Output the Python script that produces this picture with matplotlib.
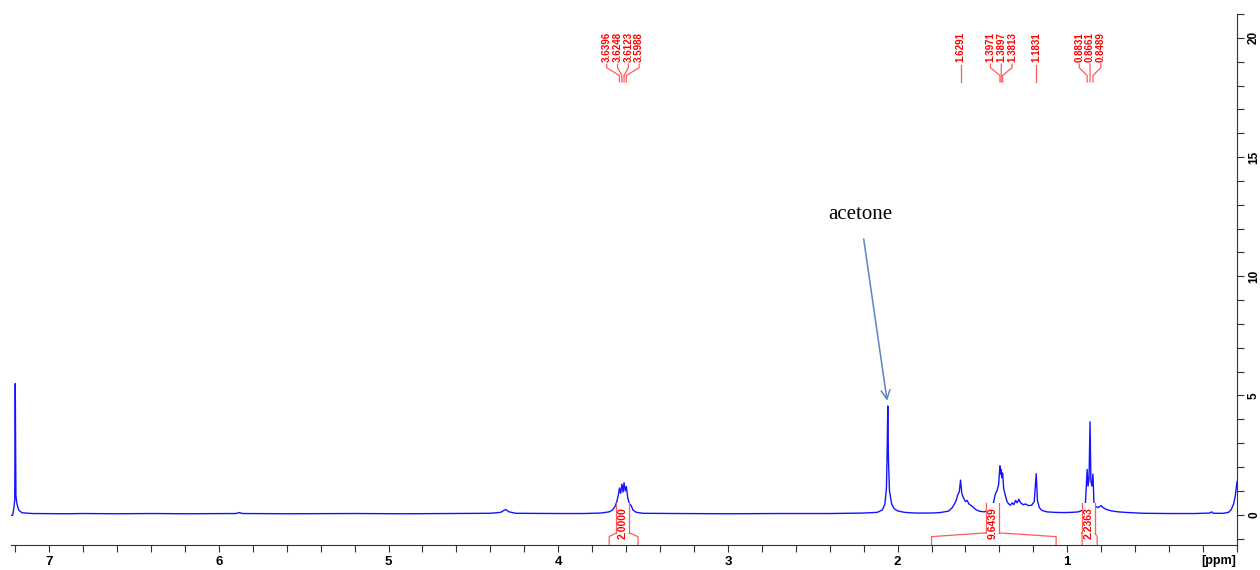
import numpy as np
import matplotlib.pyplot as plt
from matplotlib.ticker import MultipleLocator

# 1H spectrum trace (ppm, intensity), high to low ppm
ppm = [7.225, 7.215, 7.208, 7.203, 7.200, 7.196, 7.19, 7.18, 7.16, 7.10,
       6.9, 6.8, 6.6, 6.4, 6.2, 5.90, 5.88, 5.86, 5.6, 5.2, 4.9, 4.6,
       4.40, 4.34, 4.31, 4.29, 4.25, 4.0, 3.85, 3.75, 3.70, 3.68, 3.665,
       3.655, 3.645, 3.6396, 3.632, 3.6248, 3.618, 3.6123, 3.605, 3.5988,
       3.59, 3.58, 3.57, 3.56, 3.54, 3.50, 3.3, 3.0, 2.7, 2.4, 2.2, 2.12,
       2.09, 2.075, 2.066, 2.062, 2.058, 2.054, 2.048, 2.035, 2.02, 2.0,
       1.96, 1.9, 1.8, 1.75, 1.70, 1.68, 1.665, 1.655, 1.645, 1.637,
       1.6291, 1.622, 1.612, 1.60, 1.59, 1.58, 1.56, 1.54, 1.52, 1.49,
       1.46, 1.445, 1.435, 1.425, 1.415, 1.405, 1.3971, 1.393, 1.3897,
       1.385, 1.3813, 1.375, 1.365, 1.355, 1.345, 1.335, 1.325, 1.315,
       1.305, 1.295, 1.285, 1.275, 1.26, 1.245, 1.23, 1.21, 1.195, 1.1831,
       1.176, 1.165, 1.15, 1.12, 1.08, 1.02, 0.97, 0.935, 0.905, 0.893,
       0.8831, 0.878, 0.872, 0.8661, 0.861, 0.855, 0.8489, 0.843, 0.835,
       0.82, 0.80, 0.79, 0.77, 0.74, 0.70, 0.64, 0.55, 0.40, 0.25, 0.16,
       0.15, 0.14, 0.08, 0.05, 0.035, 0.02, 0.01, 0.003, 0.0]
intensity = [-0.03, -0.02, 0.3, 0.6, 5.5, 0.8, 0.45, 0.2, 0.08, 0.05,
             0.04, 0.05, 0.04, 0.05, 0.04, 0.05, 0.09, 0.05, 0.04, 0.05, 0.04, 0.05,
             0.06, 0.1, 0.22, 0.12, 0.06, 0.05, 0.05, 0.07, 0.12, 0.2, 0.35,
             0.55, 0.85, 1.12, 0.9, 1.28, 0.95, 1.34, 1.0, 1.18,
             0.7, 0.45, 0.38, 0.2, 0.1, 0.06, 0.05, 0.04, 0.05, 0.05, 0.07, 0.1,
             0.2, 0.45, 1.1, 2.5, 4.56, 2.3, 1.0, 0.45, 0.25, 0.16,
             0.1, 0.07, 0.07, 0.09, 0.15, 0.28, 0.45, 0.6, 0.85, 0.95,
             1.45, 0.9, 0.7, 0.55, 0.6, 0.45, 0.35, 0.22, 0.15, 0.12,
             0.2, 0.45, 0.5, 0.85, 1.0, 1.25, 2.05, 1.7, 1.9,
             1.55, 1.75, 1.1, 0.8, 0.55, 0.45, 0.4, 0.5, 0.42,
             0.6, 0.5, 0.65, 0.5, 0.42, 0.45, 0.38, 0.4, 0.55, 1.72,
             0.6, 0.3, 0.18, 0.12, 0.1, 0.09, 0.1, 0.12, 0.2, 0.5,
             1.9, 1.2, 1.5, 3.9, 1.4, 1.2, 1.7, 0.5, 0.35,
             0.3, 0.38, 0.3, 0.22, 0.16, 0.12, 0.09, 0.06, 0.05, 0.05, 0.07,
             0.12, 0.06, 0.06, 0.1, 0.2, 0.45, 0.8, 1.2, 1.38]

# picked peaks, grouped as they are labelled
peak_groups = [[3.6396, 3.6248, 3.6123, 3.5988],
               [1.6291],
               [1.3971, 1.3897, 1.3813],
               [1.1831],
               [0.8831, 0.8661, 0.8489]]

# integral regions: start, end, label position, value
int_start = [3.70, 1.80, 0.913]
int_end = [3.53, 1.066, 0.824]
int_label_pos = [3.62, 1.443, 0.877]
int_values = [2.0000, 9.6439, 2.2363]

red = '#ff0000'
pink = '#ff5a5a'

fig = plt.figure(figsize=(12.6, 5.7), dpi=100)
ax = fig.add_axes([11/1260, 1 - 545/570, 1226/1260, 531/570])

ax.plot(ppm, intensity, color='#1414ff', lw=1.0, zorder=2)

ax.set_xlim(7.225, 0.0)
ax.set_ylim(-1.27, 21.0)

# axes: ppm at the bottom, intensity on the right
ax.spines['top'].set_visible(False)
ax.spines['left'].set_visible(False)
ax.spines['right'].set_color('#333333')
ax.spines['bottom'].set_color('#333333')
ax.yaxis.tick_right()
ax.xaxis.set_major_locator(MultipleLocator(1))
ax.xaxis.set_minor_locator(MultipleLocator(0.2))
ax.yaxis.set_major_locator(MultipleLocator(5))
ax.yaxis.set_minor_locator(MultipleLocator(1))
ax.tick_params(axis='both', which='both', direction='out', length=5,
               width=0.8, color='#333333')
ax.set_xticks([1, 2, 3, 4, 5, 6, 7])
ax.set_xticklabels(['1', '2', '3', '4', '5', '6', '7'],
                   fontsize=9.5, fontweight='bold', family='Liberation Sans')
ax.set_yticks([0, 5, 10, 15, 20])
ax.set_yticklabels(['0', '5', '10', '15', '20'], rotation=90, va='center',
                   fontsize=8.5, fontweight='bold', family='Liberation Sans')
ax.tick_params(axis='y', pad=3)
ax.tick_params(axis='x', pad=3)
ax.text(0.105, -1.95, '[ppm]', ha='center', va='center', fontsize=9,
        fontweight='bold', family='Liberation Sans')

# peak labels with their connectors
px = 1 / 169.7  # one pixel in ppm
y_lab, y_a, y_b, y_c, y_d = 19.0, 18.9, 18.75, 18.42, 18.15
for grp in peak_groups:
    n = len(grp)
    centre = np.mean(grp)
    for i, p in enumerate(grp):
        lx = centre + ((n - 1) / 2 - i) * 10.8 * px
        ax.text(lx, y_lab, f'{p:.4f}', rotation=90, ha='center', va='bottom',
                color=red, fontsize=7, fontweight='bold',
                family='Liberation Sans')
        if n == 1:
            ax.plot([p, p], [y_a - 0.05, y_d], color=pink, lw=0.9)
        else:
            ax.plot([lx, lx, p, p], [y_a, y_b, y_c, y_d], color=pink, lw=0.9)

# integral brackets below the trace
y_foot, y_edge, y_box, y_top = -1.27, -0.92, -0.76, 0.5
half = 6.5 * px
for s, e, c, v in zip(int_start, int_end, int_label_pos, int_values):
    ax.plot([s, s, c + half], [y_foot, y_edge, y_box], color=pink, lw=0.9,
            zorder=3)
    ax.plot([c - half, e, e], [y_box, y_edge, y_foot], color=pink, lw=0.9,
            zorder=3)
    ax.fill_between([c + half, c - half], y_box, y_top,
                    color='white', lw=0, zorder=3)
    ax.plot([c + half, c + half], [y_box, y_top], color=pink, lw=0.9, zorder=6)
    ax.plot([c - half, c - half], [y_box, y_top], color=pink, lw=0.9, zorder=6)
    ax.text(c, (y_box + y_top) / 2 - 0.22, f'{v:.4f}', rotation=90,
            ha='center', va='center', color=red, fontsize=7.5,
            fontweight='bold', family='Liberation Sans', zorder=5)

# solvent note
ax.annotate('acetone', xy=(2.062, 4.78), xytext=(2.221, 12.6),
            ha='center', va='center', fontsize=15, family='Liberation Serif',
            arrowprops=dict(arrowstyle='->', color='#5b86c4', lw=1.1,
                            shrinkA=9, shrinkB=0, mutation_scale=16))

fig.savefig('out.png', dpi=100)
